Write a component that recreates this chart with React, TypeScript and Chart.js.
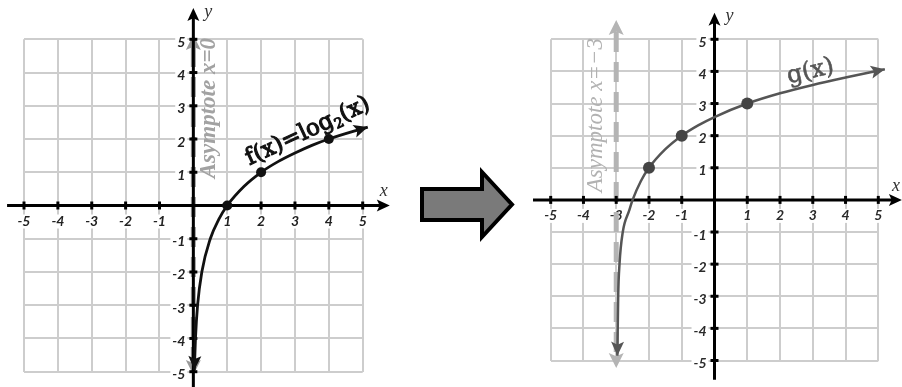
import React, { useEffect, useRef } from 'react';
import { Chart, registerables } from 'chart.js';

Chart.register(...registerables);

// Integer ticks shown along both axes (0 is left unlabeled)
const tickValues = [-5, -4, -3, -2, -1, 1, 2, 3, 4, 5];
const tickLabels = ['-5', '-4', '-3', '-2', '-1', '1', '2', '3', '4', '5'];

// f(x) = log2(x): samples along the curve, and the marked points
const fCurveX = [0.03, 0.0625, 0.125, 0.25, 0.5, 0.75, 1, 1.5, 2, 2.5, 3, 3.5, 4, 5.15];
const fCurveY = [-4.95, -4, -3, -2, -1, -0.42, 0, 0.58, 1, 1.32, 1.58, 1.81, 2, 2.36];
const fPointX = [1, 2, 4];
const fPointY = [0, 1, 2];
const fAsymptoteX = 0;

// g(x) = log2(x + 3) + 1: samples along the curve, and the marked points
const gCurveX = [-2.965, -2.94, -2.9, -2.8, -2.6, -2.5, -2.25, -2, -1.5, -1, -0.5, 0, 1, 2, 3, 4, 5.2];
const gCurveY = [-4.85, -3, -2, -1, -0.32, 0, 0.58, 1, 1.58, 2, 2.32, 2.58, 3, 3.32, 3.58, 3.81, 4.07];
const gPointX = [-2, -1, 1];
const gPointY = [1, 2, 3];
const gAsymptoteX = -3;

type TextPart = { text: string; scale: number; drop: number };

const fLabelParts: TextPart[] = [
  { text: 'f(x)=log', scale: 1, drop: 0 },
  { text: '2', scale: 0.6, drop: 0.18 },
  { text: '(x)', scale: 1, drop: 0 },
];
const gLabelParts: TextPart[] = [{ text: 'g(x)', scale: 1, drop: 0 }];

interface Panel {
  curveX: number[];
  curveY: number[];
  pointX: number[];
  pointY: number[];
  curveColor: string;
  curveWidth: number;
  pointColor: string;
  pointRadius: number;
  asymX: number;
  asymFrom: number;
  asymTo: number;
  asymColor: string;
  asymLabel: string;
  asymFont: string;
  asymLabelColor: string;
  asymLabelAt: [number, number];
  fnParts: TextPart[];
  fnFont: (px: number) => string;
  fnSize: number;
  fnColor: string;
  fnWeight: number;
  fnAt: [number, number];
  fnAngle: number;
  xReach: [number, number];
  yReach: [number, number];
  padding: { left: number; right: number; top: number; bottom: number };
  tickColor: string;
}

const SERIF = '"Liberation Serif", "DejaVu Serif", serif';
const ROUND_SERIF = '"DejaVu Serif", "Liberation Serif", serif';
const TICK_FONT = 'italic bold 14px Lato, "Open Sans", sans-serif';
const NAME_FONT = `italic 18px ${SERIF}`;

const leftPanel: Panel = {
  curveX: fCurveX,
  curveY: fCurveY,
  pointX: fPointX,
  pointY: fPointY,
  curveColor: '#111',
  curveWidth: 2.8,
  pointColor: '#111',
  pointRadius: 5,
  asymX: fAsymptoteX,
  asymFrom: -5.1,
  asymTo: 5.13,
  asymColor: '#9a9a9a',
  asymLabel: 'Asymptote x=0',
  asymFont: `italic bold 23px ${SERIF}`,
  asymLabelColor: '#a2a2a2',
  asymLabelAt: [0.46, 2.93],
  fnParts: fLabelParts,
  fnFont: (px) => `${px}px ${ROUND_SERIF}`,
  fnSize: 23,
  fnColor: '#111',
  fnWeight: 1.1,
  fnAt: [3.36, 2.27],
  fnAngle: -25,
  xReach: [-5.5, 5.8],
  yReach: [-5.5, 5.94],
  padding: { left: 24, right: 88.3, top: 39.3, bottom: 15.3 },
  tickColor: '#222',
};

const rightPanel: Panel = {
  curveX: gCurveX,
  curveY: gCurveY,
  pointX: gPointX,
  pointY: gPointY,
  curveColor: '#555',
  curveWidth: 2.5,
  pointColor: '#444',
  pointRadius: 6,
  asymX: gAsymptoteX,
  asymFrom: -5.23,
  asymTo: 5.6,
  asymColor: '#b4b4b4',
  asymLabel: 'Asymptote x=−3',
  asymFont: `italic 23px ${SERIF}`,
  asymLabelColor: '#b2b2b2',
  asymLabelAt: [-3.63, 2.64],
  fnParts: gLabelParts,
  fnFont: (px) => `${px}px ${ROUND_SERIF}`,
  fnSize: 24,
  fnColor: '#555',
  fnWeight: 0.6,
  fnAt: [2.92, 4.04],
  fnAngle: -13,
  xReach: [-5.54, 5.72],
  yReach: [-5.6, 5.83],
  padding: { left: 99.7, right: 23.7, top: 39.3, bottom: 26.5 },
  tickColor: '#2a2a2a',
};

function arrowHead(
  ctx: CanvasRenderingContext2D,
  tipX: number,
  tipY: number,
  fromX: number,
  fromY: number,
  len: number,
  half: number,
  color: string
) {
  const ang = Math.atan2(tipY - fromY, tipX - fromX);
  ctx.save();
  ctx.translate(tipX, tipY);
  ctx.rotate(ang);
  ctx.beginPath();
  ctx.moveTo(0, 0);
  ctx.lineTo(-len, -half);
  ctx.lineTo(-len * 0.78, 0);
  ctx.lineTo(-len, half);
  ctx.closePath();
  ctx.fillStyle = color;
  ctx.fill();
  ctx.restore();
}

// Draws a run of text pieces (for sub-scripts) centred on (cx, cy), rotated,
// with a thin outline to thicken the strokes.
function drawParts(
  ctx: CanvasRenderingContext2D,
  parts: TextPart[],
  fontFn: (px: number) => string,
  size: number,
  color: string,
  weight: number,
  cx: number,
  cy: number,
  angleDeg: number
) {
  ctx.save();
  ctx.translate(cx, cy);
  ctx.rotate((angleDeg * Math.PI) / 180);
  let total = 0;
  parts.forEach((pt) => {
    ctx.font = fontFn(Math.round(size * pt.scale));
    total += ctx.measureText(pt.text).width;
  });
  let x = -total / 2;
  ctx.fillStyle = color;
  ctx.strokeStyle = color;
  ctx.lineWidth = weight;
  ctx.lineJoin = 'round';
  ctx.textAlign = 'left';
  ctx.textBaseline = 'alphabetic';
  parts.forEach((pt) => {
    ctx.font = fontFn(Math.round(size * pt.scale));
    const y = size * 0.33 + pt.drop * size;
    ctx.fillText(pt.text, x, y);
    if (weight > 0) ctx.strokeText(pt.text, x, y);
    x += ctx.measureText(pt.text).width;
  });
  ctx.restore();
}

function makeDecor(p: Panel) {
  return {
    id: 'decor',
    beforeDatasetsDraw(chart: Chart) {
      const ctx = chart.ctx;
      const sx = chart.scales.x;
      const sy = chart.scales.y;
      const ox = sx.getPixelForValue(0);
      const oy = sy.getPixelForValue(0);
      ctx.save();

      // tick labels on white chips so the grid breaks around them
      ctx.font = TICK_FONT;
      ctx.textBaseline = 'middle';
      tickValues.forEach((v, i) => {
        const label = tickLabels[i];
        const w = ctx.measureText(label).width;
        const px = sx.getPixelForValue(v);
        const ly = oy + 16;
        ctx.fillStyle = '#fff';
        ctx.fillRect(px - w / 2 - 2, ly - 7, w + 4, 14);
        ctx.fillStyle = p.tickColor;
        ctx.textAlign = 'center';
        ctx.fillText(label, px, ly);

        const py = sy.getPixelForValue(v) + 3;
        const rx = ox - 8;
        ctx.fillStyle = '#fff';
        ctx.fillRect(rx - w - 2, py - 7, w + 4, 14);
        ctx.fillStyle = p.tickColor;
        ctx.textAlign = 'right';
        ctx.fillText(label, rx, py);
      });

      // dashed asymptote with arrowheads at both ends
      const ax = sx.getPixelForValue(p.asymX);
      const aTop = sy.getPixelForValue(p.asymTo);
      const aBot = sy.getPixelForValue(p.asymFrom);
      ctx.strokeStyle = p.asymColor;
      ctx.lineWidth = 5;
      ctx.setLineDash([20, 10]);
      ctx.beginPath();
      ctx.moveTo(ax, aTop + 12);
      ctx.lineTo(ax, aBot - 12);
      ctx.stroke();
      ctx.setLineDash([]);
      arrowHead(ctx, ax, aTop, ax, aTop + 20, 15, 7.5, p.asymColor);
      arrowHead(ctx, ax, aBot, ax, aBot - 20, 15, 7.5, p.asymColor);

      // axes
      ctx.strokeStyle = '#000';
      ctx.lineWidth = 3;
      const xl = sx.getPixelForValue(p.xReach[0]);
      const xr = sx.getPixelForValue(p.xReach[1]);
      ctx.beginPath();
      ctx.moveTo(xl, oy);
      ctx.lineTo(xr - 8, oy);
      ctx.stroke();
      arrowHead(ctx, xr, oy, xl, oy, 13, 6, '#000');
      const yb = sy.getPixelForValue(p.yReach[0]);
      const yt = sy.getPixelForValue(p.yReach[1]);
      ctx.beginPath();
      ctx.moveTo(ox, yb);
      ctx.lineTo(ox, yt + 8);
      ctx.stroke();
      arrowHead(ctx, ox, yt, ox, yb, 13, 6, '#000');

      // tick marks
      ctx.lineWidth = 3;
      tickValues.forEach((v) => {
        const px = sx.getPixelForValue(v);
        ctx.beginPath();
        ctx.moveTo(px, oy - 4);
        ctx.lineTo(px, oy + 4);
        ctx.stroke();
        const py = sy.getPixelForValue(v);
        ctx.beginPath();
        ctx.moveTo(ox - 4, py);
        ctx.lineTo(ox + 4, py);
        ctx.stroke();
      });

      // axis names
      ctx.font = NAME_FONT;
      ctx.fillStyle = '#333';
      ctx.textAlign = 'center';
      ctx.textBaseline = 'middle';
      ctx.fillText('x', xr - 6, oy - 14);
      ctx.fillText('y', ox + 15, yt + 4);
      ctx.restore();
    },
    afterDatasetsDraw(chart: Chart) {
      const ctx = chart.ctx;
      const sx = chart.scales.x;
      const sy = chart.scales.y;

      // arrowheads at both ends of the curve
      const pts = chart.getDatasetMeta(1).data as any[];
      const n = pts.length;
      if (n > 2) {
        arrowHead(ctx, pts[0].x, pts[0].y, pts[1].x, pts[1].y, 14, 6.5, p.curveColor);
        arrowHead(ctx, pts[n - 1].x, pts[n - 1].y, pts[n - 2].x, pts[n - 2].y, 14, 6.5, p.curveColor);
      }

      // rotated asymptote label
      ctx.save();
      ctx.translate(sx.getPixelForValue(p.asymLabelAt[0]), sy.getPixelForValue(p.asymLabelAt[1]));
      ctx.rotate(-Math.PI / 2);
      ctx.font = p.asymFont;
      ctx.fillStyle = p.asymLabelColor;
      ctx.textAlign = 'center';
      ctx.textBaseline = 'middle';
      ctx.fillText(p.asymLabel, 0, 0);
      ctx.restore();

      // function name along the curve
      drawParts(
        ctx,
        p.fnParts,
        p.fnFont,
        p.fnSize,
        p.fnColor,
        p.fnWeight,
        sx.getPixelForValue(p.fnAt[0]),
        sy.getPixelForValue(p.fnAt[1]),
        p.fnAngle
      );
    },
  };
}

function PanelChart({ panel, left }: { panel: Panel; left: number }) {
  const ref = useRef<HTMLCanvasElement>(null);

  useEffect(() => {
    const canvas = ref.current;
    if (!canvas) return;
    const gridOpts = { color: '#cdcdcd', lineWidth: 2, drawTicks: false };
    const chart = new Chart(canvas, {
      type: 'line',
      data: {
        datasets: [
          {
            data: panel.pointX.map((x, i) => ({ x, y: panel.pointY[i] })),
            showLine: false,
            pointRadius: panel.pointRadius,
            pointBackgroundColor: panel.pointColor,
            pointBorderWidth: 0,
            order: 0,
            clip: false,
          },
          {
            data: panel.curveX.map((x, i) => ({ x, y: panel.curveY[i] })),
            borderColor: panel.curveColor,
            borderWidth: panel.curveWidth,
            pointRadius: 0,
            cubicInterpolationMode: 'monotone',
            fill: false,
            order: 1,
            clip: false,
          },
        ],
      },
      options: {
        responsive: false,
        animation: false,
        devicePixelRatio: 1,
        events: [],
        layout: { padding: panel.padding },
        plugins: { legend: { display: false }, tooltip: { enabled: false } },
        scales: {
          x: {
            type: 'linear',
            min: -5,
            max: 5,
            ticks: { display: false, stepSize: 1 },
            grid: gridOpts,
            border: { display: false },
          },
          y: {
            type: 'linear',
            min: -5,
            max: 5,
            ticks: { display: false, stepSize: 1 },
            grid: gridOpts,
            border: { display: false },
          },
        },
      } as any,
      plugins: [makeDecor(panel)],
    });
    return () => chart.destroy();
  }, [panel, left]);

  return (
    <canvas
      ref={ref}
      width={451}
      height={387}
      style={{ position: 'absolute', left, top: 0, width: 451, height: 387 }}
    />
  );
}

export default function App() {
  return (
    <div
      style={{
        position: 'absolute',
        left: 0,
        top: 0,
        width: 902,
        height: 387,
        overflow: 'hidden',
        background: '#fff',
      }}
    >
      <PanelChart panel={leftPanel} left={0} />
      <PanelChart panel={rightPanel} left={451} />
      <svg
        width={902}
        height={387}
        style={{ position: 'absolute', left: 0, top: 0, pointerEvents: 'none' }}
      >
        <polygon
          points="422,189 482,189 482,172 512,204.5 482,237 482,220 422,220"
          fill="#7a7a7a"
          stroke="#000"
          strokeWidth={4}
          strokeLinejoin="miter"
        />
      </svg>
    </div>
  );
}
